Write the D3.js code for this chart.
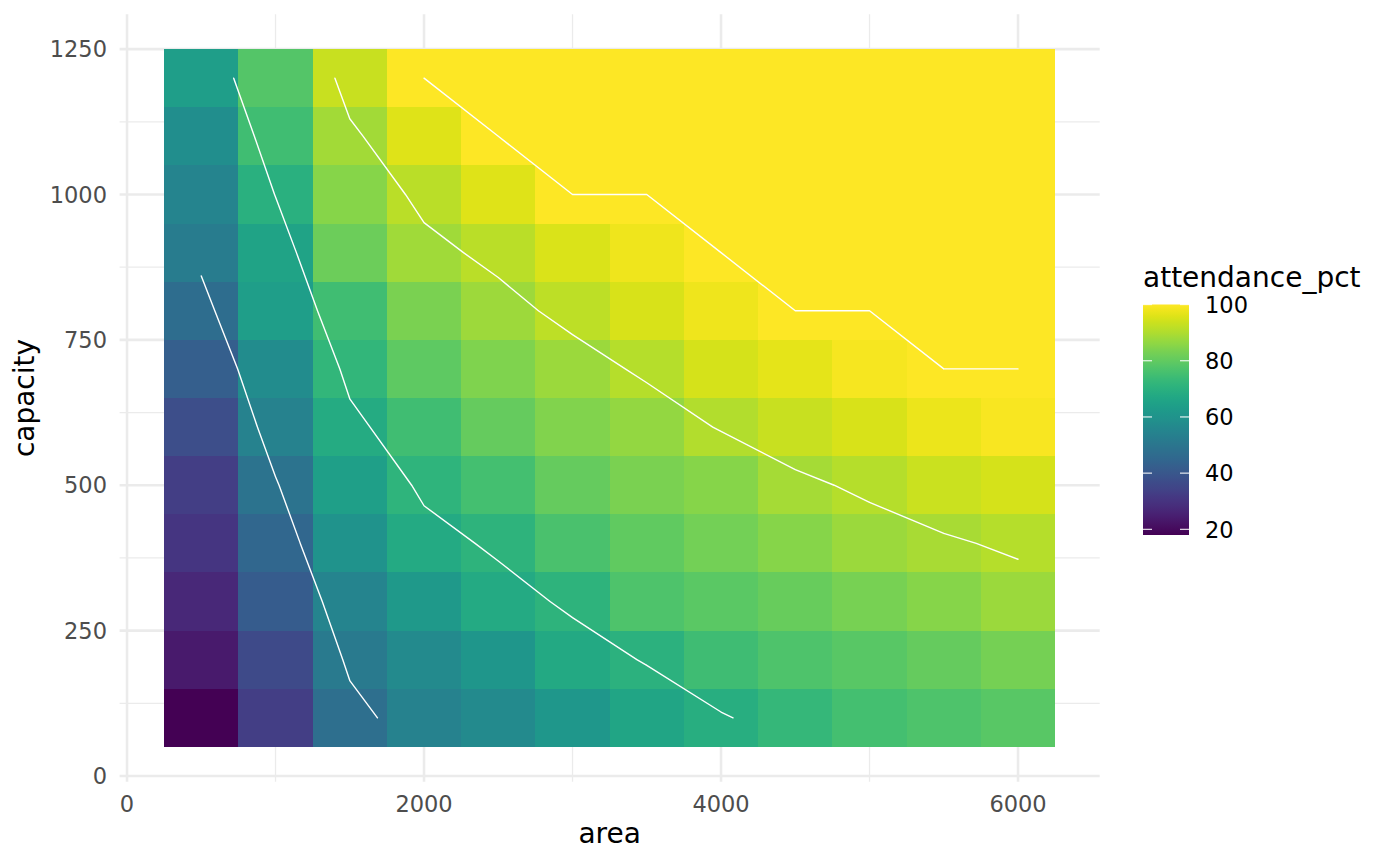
<!DOCTYPE html>
<html>
<head>
<meta charset="utf-8">
<script src="https://cdn.jsdelivr.net/npm/d3@7"></script>
<style>
  body { margin: 0; background: #fff; }
  text { font-family: "DejaVu Sans", sans-serif; }
</style>
</head>
<body>
<svg id="chart" width="1400" height="866"></svg>
<script>
// grid of the heatmap
var area = [500, 1000, 1500, 2000, 2500, 3000, 3500, 4000, 4500, 5000, 5500, 6000];
var capacity = [100, 200, 300, 400, 500, 600, 700, 800, 900, 1000, 1100, 1200];

// attendance_pct, one row per capacity, columns follow `area`
var pct100  = [18.0, 32.8, 47.5, 54.2, 57.0, 61.5, 66.3, 69.5, 72.6, 75.4, 77.0, 78.7];
var pct200  = [23.5, 36.5, 51.4, 57.0, 61.0, 67.4, 70.4, 74.5, 77.0, 78.7, 80.7, 82.8];
var pct300  = [27.0, 41.5, 55.0, 62.0, 67.7, 71.0, 77.0, 79.0, 81.0, 83.2, 85.2, 87.6];
var pct400  = [30.7, 45.0, 60.0, 67.8, 71.0, 76.6, 80.0, 82.5, 85.0, 87.6, 89.3, 90.9];
var pct500  = [33.0, 49.3, 64.0, 71.2, 75.5, 80.7, 83.5, 85.1, 88.9, 91.0, 93.4, 94.7];
var pct600  = [37.3, 54.1, 68.2, 74.8, 80.5, 84.4, 86.8, 90.4, 93.0, 95.0, 97.5, 99.2];
var pct700  = [42.6, 57.7, 71.9, 79.5, 84.0, 87.55, 91.0, 94.7, 96.7, 99.0, 100, 100];
var pct800  = [47.0, 63.5, 75.0, 83.6, 88.0, 91.7, 95.0, 97.8, 100, 100, 100, 100];
var pct900  = [52.0, 65.5, 81.5, 88.3, 91.5, 95.5, 98.0, 100, 100, 100, 100, 100];
var pct1000 = [55.0, 70.2, 85.2, 91.6, 95.9, 100, 100, 100, 100, 100, 100, 100];
var pct1100 = [58.2, 74.7, 88.7, 95.9, 100, 100, 100, 100, 100, 100, 100, 100];
var pct1200 = [63.8, 78.0, 93.0, 100, 100, 100, 100, 100, 100, 100, 100, 100];

var contourLevels = [50, 70, 90, 100];
var xTicks = [0, 2000, 4000, 6000];
var yTicks = [0, 250, 500, 750, 1000, 1250];
var legendTicks = [20, 40, 60, 80, 100];

var rows = [pct100, pct200, pct300, pct400, pct500, pct600,
            pct700, pct800, pct900, pct1000, pct1100, pct1200];

var cells = [];
rows.forEach(function(r, j) {
  r.forEach(function(v, i) {
    cells.push({area: area[i], capacity: capacity[j], value: v});
  });
});

var svg = d3.select("#chart");

var x = d3.scaleLinear().domain([-50, 6550]).range([119.6, 1099.7]);
var y = d3.scaleLinear().domain([-10, 1310]).range([781.8, 14.2]);
var color = d3.scaleSequential(d3.interpolateViridis).domain([18, 100]);

var grid = svg.append("g").attr("class", "grid");

// minor grid
grid.selectAll(".xminor").data([1000, 3000, 5000]).enter().append("line")
  .attr("x1", function(d) { return x(d); }).attr("x2", function(d) { return x(d); })
  .attr("y1", y.range()[0]).attr("y2", y.range()[1])
  .attr("stroke", "#EBEBEB").attr("stroke-width", 1.3);
grid.selectAll(".yminor").data([125, 375, 625, 875, 1125]).enter().append("line")
  .attr("x1", x.range()[0]).attr("x2", x.range()[1])
  .attr("y1", function(d) { return y(d); }).attr("y2", function(d) { return y(d); })
  .attr("stroke", "#EBEBEB").attr("stroke-width", 1.3);

// major grid
grid.selectAll(".xmajor").data(xTicks).enter().append("line")
  .attr("x1", function(d) { return x(d); }).attr("x2", function(d) { return x(d); })
  .attr("y1", y.range()[0]).attr("y2", y.range()[1])
  .attr("stroke", "#EBEBEB").attr("stroke-width", 2.6);
grid.selectAll(".ymajor").data(yTicks).enter().append("line")
  .attr("x1", x.range()[0]).attr("x2", x.range()[1])
  .attr("y1", function(d) { return y(d); }).attr("y2", function(d) { return y(d); })
  .attr("stroke", "#EBEBEB").attr("stroke-width", 2.6);

// tiles
svg.append("g").selectAll("rect").data(cells).enter().append("rect")
  .attr("x", function(d) { return x(d.area - 250); })
  .attr("y", function(d) { return y(d.capacity + 50); })
  .attr("width", function(d) { return x(d.area + 250) - x(d.area - 250); })
  .attr("height", function(d) { return y(d.capacity - 50) - y(d.capacity + 50); })
  .attr("fill", function(d) { return color(d.value); })
  .attr("shape-rendering", "crispEdges");

// marching squares on the tile centres
function edgePoint(i0, j0, i1, j1, level) {
  var v0 = rows[j0][i0], v1 = rows[j1][i1];
  var f = (level - v0) / (v1 - v0);
  return [area[i0] + f * (area[i1] - area[i0]),
          capacity[j0] + f * (capacity[j1] - capacity[j0])];
}

function contourSegments(level) {
  var segs = [];
  for (var j = 0; j < capacity.length - 1; j++) {
    for (var i = 0; i < area.length - 1; i++) {
      var c0 = rows[j][i], c1 = rows[j][i + 1],
          c2 = rows[j + 1][i + 1], c3 = rows[j + 1][i];
      var code = (c0 >= level ? 1 : 0) | (c1 >= level ? 2 : 0) |
                 (c2 >= level ? 4 : 0) | (c3 >= level ? 8 : 0);
      if (code === 0 || code === 15) continue;
      var e = [
        function() { return edgePoint(i, j, i + 1, j, level); },         // bottom
        function() { return edgePoint(i + 1, j, i + 1, j + 1, level); }, // right
        function() { return edgePoint(i, j + 1, i + 1, j + 1, level); }, // top
        function() { return edgePoint(i, j, i, j + 1, level); }          // left
      ];
      var centre = (c0 + c1 + c2 + c3) / 4;
      var pairs;
      switch (code) {
        case 1: case 14: pairs = [[3, 0]]; break;
        case 2: case 13: pairs = [[0, 1]]; break;
        case 3: case 12: pairs = [[3, 1]]; break;
        case 4: case 11: pairs = [[1, 2]]; break;
        case 6: case 9: pairs = [[0, 2]]; break;
        case 7: case 8: pairs = [[2, 3]]; break;
        case 5: pairs = centre >= level ? [[0, 1], [2, 3]] : [[3, 0], [1, 2]]; break;
        case 10: pairs = centre >= level ? [[3, 0], [1, 2]] : [[0, 1], [2, 3]]; break;
      }
      pairs.forEach(function(p) {
        var a = e[p[0]](), b = e[p[1]]();
        if (Math.abs(a[0] - b[0]) + Math.abs(a[1] - b[1]) > 1e-6) segs.push([a, b]);
      });
    }
  }
  return segs;
}

svg.append("g").selectAll("path").data(contourLevels).enter().append("path")
  .attr("d", function(level) {
    return contourSegments(level).map(function(s) {
      return "M" + x(s[0][0]) + "," + y(s[0][1]) + "L" + x(s[1][0]) + "," + y(s[1][1]);
    }).join("");
  })
  .attr("fill", "none")
  .attr("stroke", "#fff")
  .attr("stroke-width", 1.4)
  .attr("stroke-linecap", "round");

// axes labels
svg.append("g").selectAll("text").data(xTicks).enter().append("text")
  .attr("x", function(d) { return x(d); })
  .attr("y", 812)
  .attr("text-anchor", "middle")
  .attr("font-size", 22.5)
  .attr("fill", "#4D4D4D")
  .text(function(d) { return d; });

svg.append("g").selectAll("text").data(yTicks).enter().append("text")
  .attr("x", 107)
  .attr("y", function(d) { return y(d) + 8.2; })
  .attr("text-anchor", "end")
  .attr("font-size", 22.5)
  .attr("fill", "#4D4D4D")
  .text(function(d) { return d; });

svg.append("text")
  .attr("x", (x.range()[0] + x.range()[1]) / 2)
  .attr("y", 842.5)
  .attr("text-anchor", "middle")
  .attr("font-size", 28)
  .attr("fill", "#000")
  .text("area");

svg.append("text")
  .attr("transform", "translate(33.5," + (y.range()[0] + y.range()[1]) / 2 + ") rotate(-90)")
  .attr("text-anchor", "middle")
  .attr("font-size", 28)
  .attr("fill", "#000")
  .text("capacity");

// legend
var ly = d3.scaleLinear().domain([18, 100]).range([535, 304.5]);
var grad = svg.append("defs").append("linearGradient")
  .attr("id", "viridis-bar")
  .attr("x1", 0).attr("y1", 1).attr("x2", 0).attr("y2", 0);
grad.selectAll("stop").data(d3.range(0, 1.0001, 0.025)).enter().append("stop")
  .attr("offset", function(t) { return t; })
  .attr("stop-color", function(t) { return d3.interpolateViridis(t); });

var legend = svg.append("g");
legend.append("text")
  .attr("x", 1143)
  .attr("y", 287)
  .attr("font-size", 28)
  .attr("fill", "#000")
  .text("attendance_pct");

legend.append("rect")
  .attr("x", 1143)
  .attr("y", ly(100))
  .attr("width", 46)
  .attr("height", ly(18) - ly(100))
  .attr("fill", "url(#viridis-bar)");

legendTicks.forEach(function(v) {
  [[1143, 1152], [1180, 1189]].forEach(function(seg) {
    legend.append("line")
      .attr("x1", seg[0]).attr("x2", seg[1])
      .attr("y1", ly(v)).attr("y2", ly(v))
      .attr("stroke", "#fff").attr("stroke-opacity", 0.8)
      .attr("stroke-width", 1.3);
  });
});

legend.selectAll(".lab").data(legendTicks).enter().append("text")
  .attr("x", 1205)
  .attr("y", function(d) { return ly(d) + 8.2; })
  .attr("font-size", 22.5)
  .attr("fill", "#000")
  .text(function(d) { return d; });
</script>
</body>
</html>
